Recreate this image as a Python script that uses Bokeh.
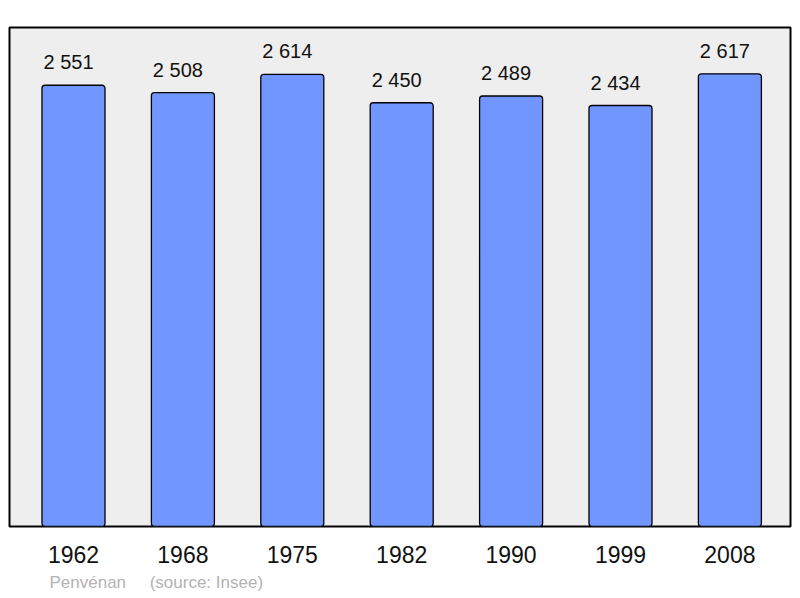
from bokeh.plotting import figure
from bokeh.models import ColumnDataSource, FixedTicker, Range1d, Title
from bokeh.core.properties import value
from bokeh.embed import file_html
from bokeh.resources import INLINE

years = ["1962", "1968", "1975", "1982", "1990", "1999", "2008"]
population = [2551, 2508, 2614, 2450, 2489, 2434, 2617]
labels = ["2 551", "2 508", "2 614", "2 450", "2 489", "2 434", "2 617"]
commune = "Penvénan"
source_note = "(source: Insee)"

xs = list(range(len(years)))
src = ColumnDataSource(dict(x=xs, pop=population, lab=labels))

FONT = "Liberation Sans"

p = figure(width=792, height=597, output_backend="svg", toolbar_location=None,
           x_range=Range1d(-0.585, 6.554), y_range=Range1d(0, 2885),
           min_border_left=9, min_border_right=2, min_border_top=27, min_border_bottom=8)
p.background_fill_color = "#eeeeee"
p.border_fill_color = "white"
p.outline_line_color = "black"
p.outline_line_width = 2
p.xgrid.visible = False
p.ygrid.visible = False
p.yaxis.visible = False

p.vbar(x="x", top="pop", width=0.576, source=src, fill_color="#7196ff",
       line_color="black", line_width=1.3, border_radius=3)
p.text(x="x", y="pop", text="lab", source=src, text_align="center",
       text_baseline="middle", x_offset=-5, y_offset=-23, text_font=value(FONT),
       text_font_size="20px", text_color="#111111")

ax = p.xaxis[0]
ax.ticker = FixedTicker(ticks=xs)
ax.major_label_overrides = {i: y for i, y in enumerate(years)}
ax.axis_line_color = None
ax.major_tick_line_color = None
ax.minor_tick_line_color = None
ax.major_tick_out = 0
ax.major_tick_in = 0
ax.major_label_standoff = 19
ax.major_label_text_font = FONT
ax.major_label_text_font_size = "23px"
ax.major_label_text_color = "#111111"

note = Title(text=commune + "\u00a0\u00a0\u00a0\u00a0\u00a0" + source_note, align="left",
             offset=40, text_font=FONT, text_font_size="17px",
             text_font_style="normal", text_color="#b3b3b3", standoff=11)
p.add_layout(note, "below")

open("out.html", "w").write(file_html(p, INLINE))
